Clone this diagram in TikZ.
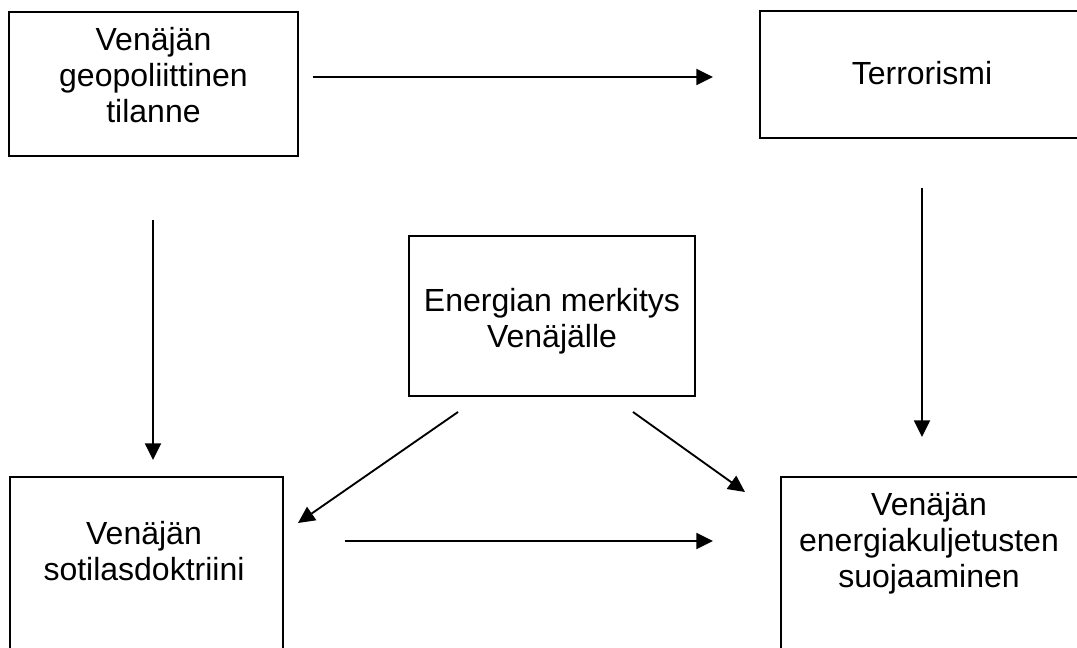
\documentclass[tikz,border=0pt]{standalone}
\usepackage{fontspec}
\setmainfont{Liberation Sans}
\usetikzlibrary{arrows.meta}
\tikzset{
  boite/.style={draw, line width=1.3pt},
  texte/.style={align=center, anchor=base, inner sep=0pt, font=\fontsize{24pt}{27pt}\selectfont},
  fleche/.style={line width=1.4pt, -{Triangle[length=12.5pt,width=12pt]}}
}
\begin{document}
\begin{tikzpicture}[x=0.75pt,y=-0.75pt]
\useasboundingbox (0,0) rectangle (1077,648);
\clip (0,0) rectangle (1077,648);

% Cadres
\draw[boite] (9,12) rectangle (298,156);
\draw[boite] (760,11) rectangle (1084,138);
\draw[boite] (409,236) rectangle (695,396);
\draw[boite] (10,477) rectangle (283,660);
\draw[boite] (781,477) rectangle (1080,660);

% Textes (ancre sur la derniere ligne)
\node[texte] (geo) at (153.5,123) {Venäjän\\geopoliittinen\\tilanne};
\node[texte] (terro) at (922,85) {Terrorismi};
\node[texte] (energie) at (552,348) {Energian merkitys\\Venäjälle};
\node[texte] (doctrine) at (144,580) {Venäjän\\sotilasdoktriini};
\node[texte] (transport) at (929,587) {Venäjän\\energiakuljetusten\\suojaaminen};

% Extremites des fleches
\coordinate (geoE) at (313,77);
\coordinate (terroW) at (713,77);
\coordinate (geoS) at (153,220);
\coordinate (doctrineN) at (153,460);
\coordinate (terroS) at (922,188);
\coordinate (transportN) at (922,437);
\coordinate (energieSW) at (458,412);
\coordinate (doctrineNE) at (298,523);
\coordinate (energieSE) at (633,412);
\coordinate (transportNW) at (745,492);
\coordinate (doctrineE) at (345,541);
\coordinate (transportW) at (713,541);

% Fleches
\draw[fleche] (geoE) -- (terroW);
\draw[fleche] (geoS) -- (doctrineN);
\draw[fleche] (terroS) -- (transportN);
\draw[fleche] (energieSW) -- (doctrineNE);
\draw[fleche] (energieSE) -- (transportNW);
\draw[fleche] (doctrineE) -- (transportW);

\end{tikzpicture}
\end{document}
